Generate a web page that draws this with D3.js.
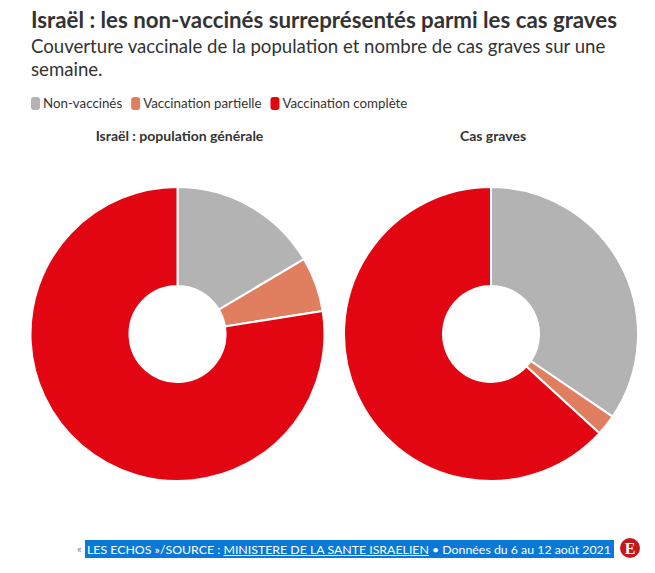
<!DOCTYPE html>
<html><head><meta charset="utf-8">
<script src="https://cdn.jsdelivr.net/npm/d3@7"></script>
<style>
body{margin:0;background:#fff;}
svg{display:block;}
</style></head>
<body>
<script>
const categories = ["Non-vaccinés", "Vaccination partielle", "Vaccination complète"];
const colors = ["#b3b3b3", "#e07f60", "#e20613"];
const populationValues = [16.5, 6.0, 77.5];
const severeValues = [34.5, 2.3, 63.2];
const chartTitles = ["Israël : population générale", "Cas graves"];

const W = 655, H = 573;
const svg = d3.select("body").append("svg").attr("width", W).attr("height", H);
const font = "Lato, 'Open Sans', sans-serif";

function fit(sel, target) {
  const fs = +sel.attr("font-size");
  const w = sel.node().getComputedTextLength();
  sel.attr("font-size", (fs * target / w).toFixed(2));
}

const title = svg.append("text").attr("x", 31).attr("y", 28)
  .attr("font-family", font).attr("font-weight", 700).attr("font-size", 21)
  .attr("fill", "#333").text("Israël : les non-vaccinés surreprésentés parmi les cas graves");
fit(title, 586);

const sub1 = svg.append("text").attr("x", 31).attr("y", 53).attr("font-family", font).attr("font-size", 18).attr("fill", "#333")
  .text("Couverture vaccinale de la population et nombre de cas graves sur une");
fit(sub1, 575);
svg.append("text").attr("x", 31).attr("y", 76).attr("font-family", font).attr("font-size", sub1.attr("font-size")).attr("fill", "#333")
  .text("semaine.");

// legend
let lx = 31;
const legend = svg.append("g");
categories.forEach((c, i) => {
  const g = legend.append("g").attr("transform", `translate(${lx},0)`);
  g.append("rect").attr("x", 0).attr("y", 97).attr("width", 9).attr("height", 13).attr("rx", 3).attr("fill", colors[i]);
  const t = g.append("text").attr("x", 12).attr("y", 108).attr("font-family", font).attr("font-size", 13.3).attr("fill", "#333").text(c);
  lx += 12 + t.node().getComputedTextLength() + 9;
});

const color = d3.scaleOrdinal().domain(categories).range(colors);
const pie = d3.pie().sort(null).value(d => d.v);
const arc = d3.arc().innerRadius(48).outerRadius(147);

[[populationValues, 177.5], [severeValues, 491]].forEach(([vals, cx], k) => {
  svg.append("text").attr("x", k === 0 ? 179.5 : 493).attr("y", 141).attr("text-anchor", "middle")
    .attr("font-family", font).attr("font-weight", 700).attr("font-size", 14).attr("fill", "#333")
    .text(chartTitles[k]);
  const g = svg.append("g").attr("transform", `translate(${cx},334)`);
  const data = categories.map((c, i) => ({c, v: vals[i]}));
  g.selectAll("path").data(pie(data)).join("path")
    .attr("d", arc).attr("fill", d => color(d.data.c))
    .attr("stroke", "#fff").attr("stroke-width", 2).attr("stroke-linejoin", "round");
});

// footer
const footer = svg.append("g");
footer.append("rect").attr("x", 85).attr("y", 540).attr("width", 529).attr("height", 18).attr("fill", "#0a78d7");
footer.append("text").attr("x", 77).attr("y", 553).attr("font-family", font).attr("font-size", 11).attr("fill", "#888").text("«");
const pre = "LES ECHOS »/SOURCE : ", link = "MINISTERE DE LA SANTE ISRAELIEN";
const ft = footer.append("text").attr("x", 87).attr("y", 553.5).attr("font-family", font).attr("font-size", 14).attr("fill", "#fff")
  .text(pre + link + " • Données du 6 au 12 août 2021");
fit(ft, 524);
const node = ft.node();
const ux0 = 87 + node.getSubStringLength(0, pre.length);
const uw = node.getSubStringLength(pre.length, link.length);
footer.append("line").attr("x1", ux0).attr("x2", ux0 + uw).attr("y1", 555.5).attr("y2", 555.5)
  .attr("stroke", "#fff").attr("stroke-width", 1);
footer.append("circle").attr("cx", 630).attr("cy", 548).attr("r", 10).attr("fill", "#c8161d");
footer.append("text").attr("x", 630).attr("y", 554).attr("text-anchor", "middle").attr("font-family", "'Liberation Serif', serif")
  .attr("font-weight", 700).attr("font-size", 16).attr("fill", "#fff").text("E");
</script>
</body></html>
